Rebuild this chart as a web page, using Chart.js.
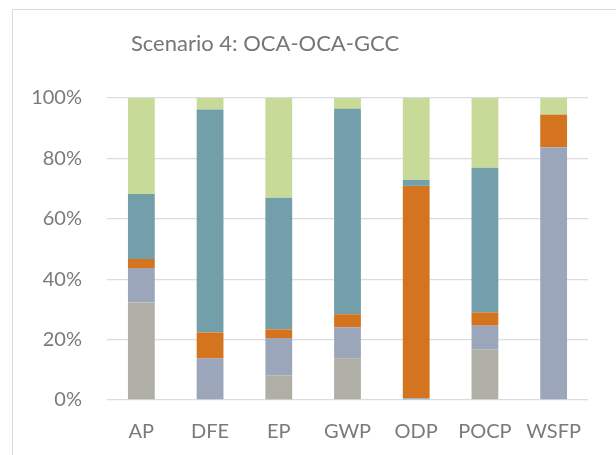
<!DOCTYPE html>
<html>
<head>
<meta charset="utf-8">
<script src="https://cdn.jsdelivr.net/npm/chart.js@4/dist/chart.umd.min.js"></script>
<style>
  html, body { margin: 0; padding: 0; background: #fff; }
  #wrap { position: relative; width: 616px; height: 455px; overflow: hidden; }
  #frame { position: absolute; left: 12px; top: 9px; width: 700px; height: 600px;
           border-left: 1px solid #d9d9d9; border-top: 1px solid #d9d9d9; }
  #titulo { position: absolute; left: 0; top: 29px; width: 530px; text-align: center;
            font-family: Lato, 'Open Sans', sans-serif; font-size: 22px; line-height: 28px;
            color: #767676; }
  canvas { position: absolute; left: 0; top: 0; }
</style>
</head>
<body>
<div id="wrap">
  <div id="frame"></div>
  <canvas id="grafico" width="616" height="455"></canvas>
  <div id="titulo">Scenario 4: OCA-OCA-GCC</div>
</div>
<script>
// categorias del eje X
const categorias = ['AP', 'DFE', 'EP', 'GWP', 'ODP', 'POCP', 'WSFP'];

// valores por serie (% de cada categoria), de abajo hacia arriba
const serieGris    = [32.3, 0.0, 8.2, 13.8, 0.0, 16.8, 0.0];
const serieAzul    = [11.4, 13.8, 12.3, 10.3, 0.6, 7.8, 83.7];
const serieNaranja = [3.0, 8.6, 2.9, 4.3, 70.3, 4.4, 10.8];
const serieTeal    = [21.5, 73.8, 43.6, 68.0, 2.0, 47.9, 0.0];
const serieVerde   = [31.8, 3.8, 33.0, 3.6, 27.1, 23.1, 5.5];

const ticksY = [0, 20, 40, 60, 80, 100];

const colores = ['#b0afa6', '#9ca6bb', '#d4741f', '#739fab', '#c8da97'];
const series = [serieGris, serieAzul, serieNaranja, serieTeal, serieVerde];

const fuente = "Lato, 'Open Sans', sans-serif";

const datasets = series.map((s, i) => ({
    label: 'Serie ' + (i + 1),
    data: s,
    backgroundColor: colores[i],
    borderWidth: 0,
    barPercentage: 0.39,
    categoryPercentage: 1.0
}));

new Chart(document.getElementById('grafico'), {
    type: 'bar',
    data: { labels: categorias, datasets: datasets },
    options: {
        responsive: false,
        animation: false,
        layout: { padding: { left: 0, right: 28, top: 98, bottom: 0 } },
        plugins: {
            legend: { display: false },
            tooltip: { enabled: false },
            title: { display: false }
        },
        scales: {
            x: {
                stacked: true,
                grid: { display: false, drawTicks: false },
                border: { display: false },
                ticks: { color: '#7a7a7a', padding: 20, font: { family: fuente, size: 20 } },
                afterFit: (scale) => { scale.height = 55; }
            },
            y: {
                stacked: true,
                min: 0,
                max: 100,
                afterBuildTicks: (scale) => { scale.ticks = ticksY.map(v => ({ value: v })); },
                grid: { color: '#dcdcdc', lineWidth: 1.3, drawTicks: false },
                border: { display: false },
                ticks: {
                    color: '#7a7a7a',
                    padding: 25,
                    font: { family: fuente, size: 20 },
                    callback: (v) => v + '%'
                },
                afterFit: (scale) => { scale.width = 107; }
            }
        }
    }
});
</script>
</body>
</html>
